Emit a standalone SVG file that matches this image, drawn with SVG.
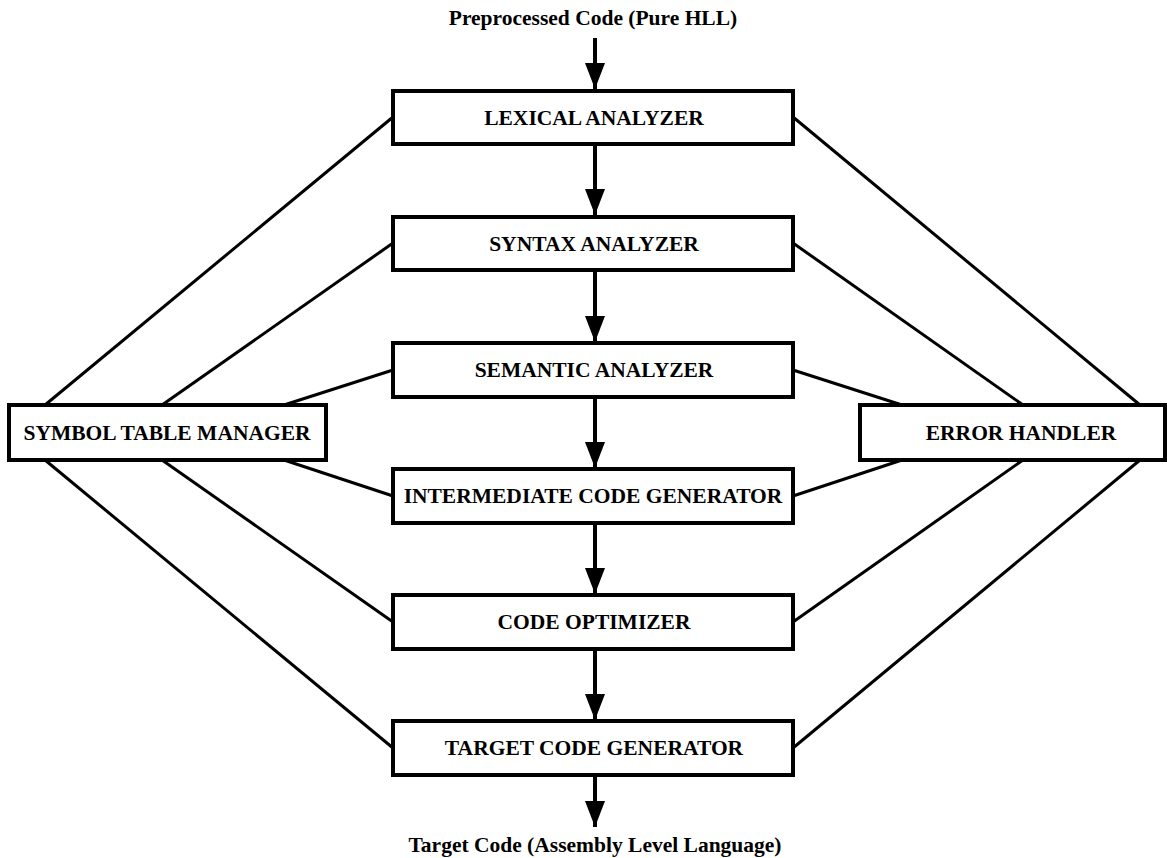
<svg xmlns="http://www.w3.org/2000/svg" width="1167" height="858" viewBox="0 0 1167 858">
  <style>
    .box { fill: #ffffff; stroke: #000000; stroke-width: 4; }
    .lbl { font-family: "Liberation Serif", "Times New Roman", serif; font-weight: bold; font-size: 21.5px; fill: #000000; text-anchor: middle; }
    .link { stroke: #000000; stroke-width: 3; fill: none; }
    .flow { stroke: #000000; stroke-width: 4; fill: none; marker-end: url(#head); }
  </style>
  <defs>
    <marker id="head" markerUnits="userSpaceOnUse" markerWidth="26" markerHeight="20" refX="26" refY="10" viewBox="0 0 26 20" orient="auto">
      <path d="M0,0 L26,10 L0,20 Z" fill="#000000"/>
    </marker>
  </defs>
  <rect width="1167" height="858" fill="#ffffff"/>

  <!-- side links between the phases and the two support units -->
  <g id="connectors">
    <line class="link" x1="45" y1="405" x2="393" y2="117"/>
    <line class="link" x1="162" y1="405" x2="393" y2="243"/>
    <line class="link" x1="284" y1="405" x2="393" y2="370"/>
    <line class="link" x1="284" y1="460" x2="393" y2="496"/>
    <line class="link" x1="162" y1="460" x2="393" y2="622"/>
    <line class="link" x1="45" y1="460" x2="393" y2="748"/>

    <line class="link" x1="1140" y1="405" x2="793" y2="117"/>
    <line class="link" x1="1023" y1="405" x2="793" y2="243"/>
    <line class="link" x1="902" y1="405" x2="793" y2="370"/>
    <line class="link" x1="902" y1="460" x2="793" y2="496"/>
    <line class="link" x1="1023" y1="460" x2="793" y2="622"/>
    <line class="link" x1="1140" y1="460" x2="793" y2="748"/>

    <!-- main phase flow -->
    <line class="flow" x1="595" y1="38" x2="595" y2="89"/>
    <line class="flow" x1="595" y1="144" x2="595" y2="215"/>
    <line class="flow" x1="595" y1="270" x2="595" y2="342"/>
    <line class="flow" x1="595" y1="397" x2="595" y2="468"/>
    <line class="flow" x1="595" y1="523" x2="595" y2="594"/>
    <line class="flow" x1="595" y1="649" x2="595" y2="720"/>
    <line class="flow" x1="595" y1="775" x2="595" y2="827"/>
  </g>

  <text class="lbl" x="593" y="25">Preprocessed Code (Pure HLL)</text>
  <text class="lbl" x="595" y="852">Target Code (Assembly Level Language)</text>

  <g id="lexical">
    <rect class="box" x="393" y="91" width="400" height="53"/>
    <text class="lbl" x="594" y="125">LEXICAL ANALYZER</text>
  </g>
  <g id="syntax">
    <rect class="box" x="393" y="217" width="400" height="53"/>
    <text class="lbl" x="594" y="251">SYNTAX ANALYZER</text>
  </g>
  <g id="semantic">
    <rect class="box" x="393" y="343" width="400" height="54"/>
    <text class="lbl" x="594" y="377">SEMANTIC ANALYZER</text>
  </g>
  <g id="intermediate">
    <rect class="box" x="393" y="469" width="400" height="54"/>
    <text class="lbl" x="593" y="503">INTERMEDIATE CODE GENERATOR</text>
  </g>
  <g id="optimizer">
    <rect class="box" x="393" y="595" width="400" height="54"/>
    <text class="lbl" x="594" y="629">CODE OPTIMIZER</text>
  </g>
  <g id="target">
    <rect class="box" x="393" y="721" width="400" height="54"/>
    <text class="lbl" x="594" y="755">TARGET CODE GENERATOR</text>
  </g>

  <g id="symbol-table">
    <rect class="box" x="9" y="405" width="317" height="55"/>
    <text class="lbl" x="167" y="440">SYMBOL TABLE MANAGER</text>
  </g>
  <g id="error-handler">
    <rect class="box" x="860" y="405" width="305" height="55"/>
    <text class="lbl" x="1021" y="440">ERROR HANDLER</text>
  </g>
</svg>
